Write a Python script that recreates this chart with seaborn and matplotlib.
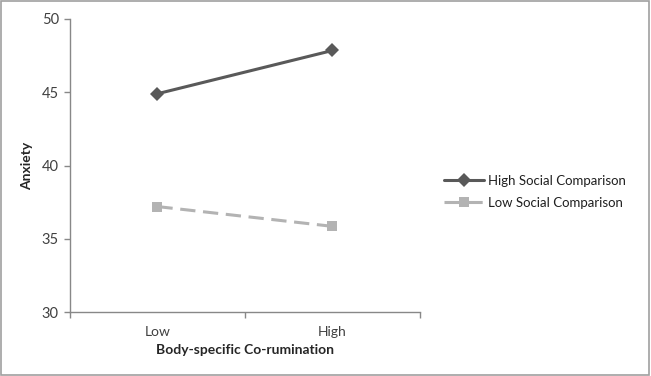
import pandas as pd
import matplotlib.pyplot as plt
import matplotlib.patches as mpatches
import seaborn as sns

# Dados
niveis = ['Low', 'High']
high_social = [44.9, 47.85]
low_social = [37.2, 35.85]
series = ['High Social Comparison', 'Low Social Comparison']

df = pd.DataFrame({
    'Nivel': niveis * 2,
    'Anxiety': high_social + low_social,
    'Grupo': [series[0]] * 2 + [series[1]] * 2,
})

sns.set_style('white')
plt.rcParams['font.family'] = ['Lato', 'DejaVu Sans']

fig = plt.figure(figsize=(6.51, 3.76), dpi=100)
ax = fig.add_axes([0.1075, 0.170, 0.5375, 0.7795])

cores = {series[0]: '#595959', series[1]: '#b3b3b3'}
sns.lineplot(data=df, x='Nivel', y='Anxiety', hue='Grupo', style='Grupo',
             palette=cores, markers={series[0]: 'D', series[1]: 's'},
             dashes={series[0]: '', series[1]: (5, 2.5)},
             markersize=7, linewidth=2.2, markeredgewidth=0, ax=ax)

ax.set_xlim(-0.5, 1.5)
ax.set_ylim(30, 50)
ax.set_yticks([30, 35, 40, 45, 50])
ax.set_xticks([0, 1])
ax.set_xticks([-0.5, 0.5, 1.5], minor=True)
ax.tick_params(axis='x', which='major', length=0, pad=10, labelsize=10, colors='#404040')
ax.tick_params(axis='x', which='minor', length=4, width=1, color='#888888', direction='out', bottom=True)
ax.tick_params(axis='y', length=4, width=1, color='#888888', direction='out', left=True,
               labelsize=10.5, labelcolor='#404040', pad=4)

for lado in ['top', 'right']:
    ax.spines[lado].set_visible(False)
for lado in ['left', 'bottom']:
    ax.spines[lado].set_color('#888888')
    ax.spines[lado].set_linewidth(1)

ax.set_xlabel('Body-specific Co-rumination', fontsize=10, weight='bold', labelpad=4)
ax.set_ylabel('Anxiety', fontsize=10, weight='bold', labelpad=6)

ax.legend(title=None, frameon=False, fontsize=9.5, loc='center left',
          bbox_to_anchor=(0.664, 0.49), bbox_transform=fig.transFigure,
          handlelength=3.0, handletextpad=0.3, labelspacing=0.75, labelcolor='#202020')

fig.patches.append(mpatches.Rectangle((0.002, 0.003), 0.995, 0.994, transform=fig.transFigure,
                                      fill=False, edgecolor='#a0a0a0', linewidth=1.2))

fig.savefig('out.png', dpi=100)
